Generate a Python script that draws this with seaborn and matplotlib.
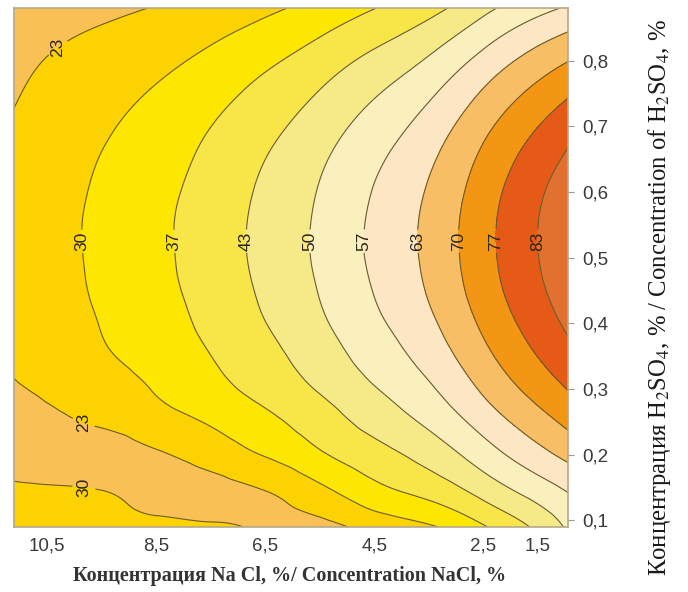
import numpy as np
import pandas as pd
import matplotlib
matplotlib.use("Agg")
import matplotlib.pyplot as plt
import matplotlib.tri as mtri
import seaborn as sns

# grid nodes: NaCl concentration (x) and H2SO4 concentration (y), %
nacl = [11.1, 10.5, 9.5, 8.5, 7.5, 6.5, 5.5, 4.5, 3.5, 2.5, 1.5, 0.95]
h2so4 = [0.09, 0.15, 0.20, 0.25, 0.30, 0.35, 0.40, 0.45, 0.50, 0.55,
         0.60, 0.65, 0.70, 0.75, 0.80, 0.88]

# response values, one list per H2SO4 row
z_009 = [27.0, 26.8, 26.2, 25.3, 24.2, 22.5, 21.5, 25.5, 29.2, 36.0, 44.8, 51.0]
z_015 = [24.0, 23.8, 23.0, 21.0, 21.5, 23.8, 29.0, 35.3, 39.7, 46.5, 53.8, 57.7]
z_020 = [21.5, 20.3, 20.6, 22.6, 26.0, 30.4, 35.8, 40.8, 45.9, 53.4, 61.1, 65.1]
z_025 = [21.0, 22.0, 24.2, 27.2, 30.6, 35.0, 40.0, 45.6, 51.3, 59.3, 67.3, 71.5]
z_030 = [22.8, 24.2, 27.0, 30.4, 34.5, 38.9, 43.9, 49.6, 55.7, 64.3, 72.6, 76.9]
z_035 = [23.9, 26.0, 29.2, 32.5, 36.6, 41.3, 46.7, 52.8, 59.3, 68.2, 76.8, 81.2]
z_040 = [24.4, 26.7, 30.2, 33.8, 38.2, 43.2, 48.9, 55.3, 62.0, 71.2, 79.9, 84.5]
z_045 = [24.8, 27.2, 30.9, 34.7, 39.2, 44.4, 50.3, 56.9, 63.9, 73.3, 82.1, 86.7]
z_050 = [25.0, 27.5, 31.2, 35.1, 39.8, 45.1, 51.1, 57.8, 64.8, 74.3, 83.2, 87.8]
z_055 = [25.0, 27.5, 31.3, 35.2, 39.9, 45.1, 51.1, 57.8, 64.9, 74.4, 83.3, 87.9]
z_060 = [24.8, 27.2, 30.9, 34.7, 39.3, 44.5, 50.4, 57.0, 64.0, 73.4, 82.3, 86.8]
z_065 = [24.4, 26.7, 30.2, 33.8, 38.2, 43.3, 49.0, 55.4, 62.2, 71.4, 80.0, 84.4]
z_070 = [23.8, 25.9, 29.1, 32.5, 36.6, 41.3, 46.7, 52.8, 59.4, 68.3, 76.6, 80.8]
z_075 = [22.9, 24.8, 27.7, 30.6, 34.3, 38.7, 43.7, 49.4, 55.6, 64.1, 72.0, 75.9]
z_080 = [21.9, 23.5, 25.8, 28.3, 31.5, 35.4, 39.9, 45.1, 50.8, 58.8, 66.3, 69.8]
z_088 = [19.7, 20.8, 22.1, 23.6, 25.8, 28.7, 32.2, 36.5, 41.1, 48.2, 54.6, 57.4]

levels = [23.33, 30.0, 36.67, 43.33, 50.0, 56.67, 63.33, 70.0, 76.67, 83.33]
band_colors = ["#F9C055", "#FCD200", "#FDE600", "#F8E648", "#F6EA88", "#F9F0BE",
               "#FCE6C4", "#F8BE66", "#F29613", "#E45A16", "#E2702E"]

xtick_major = [10.5, 8.5, 6.5, 4.5, 2.5, 1.5]
xtick_labels = ["10,5", "8,5", "6,5", "4,5", "2,5", "1,5"]
xtick_minor = [9.5, 7.5, 5.5, 3.5]
ytick_vals = [0.1, 0.2, 0.3, 0.4, 0.5, 0.6, 0.7, 0.8]
ytick_labels = ["0,1", "0,2", "0,3", "0,4", "0,5", "0,6", "0,7", "0,8"]

sns.set_style("white")
plt.rcParams["font.family"] = ["Liberation Sans", "DejaVu Sans"]
plt.rcParams["mathtext.fontset"] = "stix"

grid = pd.DataFrame([z_009, z_015, z_020, z_025, z_030, z_035, z_040, z_045,
                     z_050, z_055, z_060, z_065, z_070, z_075, z_080, z_088],
                    index=h2so4, columns=nacl)

# two triangles per grid cell, then smooth refinement (y scaled for isotropy)
nx, ny = len(nacl), len(h2so4)
X, Y = np.meshgrid(nacl, h2so4)
tris = []
for j in range(ny - 1):
    for i in range(nx - 1):
        a = j * nx + i
        tris += [[a, a + 1, a + nx + 1], [a, a + nx + 1, a + nx]]
yscale = 12.0
tri = mtri.Triangulation(X.ravel(), Y.ravel() * yscale, tris)
tri_f, z_f = mtri.UniformTriRefiner(tri).refine_field(grid.values.ravel(), subdiv=4)
tri_f = mtri.Triangulation(tri_f.x, tri_f.y / yscale, tri_f.triangles)

fig = plt.figure(figsize=(6.88, 5.92), dpi=100)
ax = fig.add_axes([14 / 688, 1 - 527 / 592, 554 / 688, 519 / 592])

fill_levels = [-100] + levels + [200]
ax.tricontourf(tri_f, z_f, levels=fill_levels, colors=band_colors)
cs = ax.tricontour(tri_f, z_f, levels=levels, colors="#6b5b2e", linewidths=0.8)

ax.set_xlim(max(nacl), min(nacl))
ax.set_ylim(min(h2so4), max(h2so4))

label_spots = [(10.22, 0.811), (9.82, 0.525), (8.13, 0.525), (6.82, 0.525),
               (5.68, 0.525), (4.67, 0.525), (3.72, 0.525), (3.02, 0.525),
               (2.32, 0.525), (1.51, 0.525), (9.82, 0.25), (9.82, 0.149)]
texts = ax.clabel(cs, levels, manual=label_spots, inline=True, inline_spacing=2,
                  fmt=lambda v: f"{v:.0f}", fontsize=12.5, colors="#2a2418")
for t in texts:
    t.set_rotation(90)
texts[-1].set_text("30")

ax.set_xticks(xtick_major)
ax.set_xticklabels(xtick_labels)
ax.set_xticks(xtick_minor, minor=True)
ax.yaxis.tick_right()
ax.set_yticks(ytick_vals)
ax.set_yticklabels(ytick_labels)
ax.tick_params(axis="both", which="both", direction="out", length=4,
               color="#9a9a9a", labelcolor="#3a3a3a", labelsize=13.5)
ax.tick_params(axis="y", pad=6)

for sp in ax.spines.values():
    sp.set_color("#b5a98a")
    sp.set_linewidth(1.2)

ax.set_xlabel("Концентрация Na Cl, %/ Concentration NaCl, %",
              family=["Liberation Serif"], fontsize=14.5, fontweight="bold",
              color="#333333")
ax.xaxis.set_label_coords(0.498, -0.075)
ax.yaxis.set_label_position("right")
ax.set_ylabel(r"Концентрация H$_2$SO$_4$, % / Concentration of H$_2$SO$_4$, %",
              family=["Liberation Serif"], fontsize=17.8, color="#1a1a1a")
ax.yaxis.set_label_coords(1.14, 0.443)

fig.savefig("out.png", dpi=100)
